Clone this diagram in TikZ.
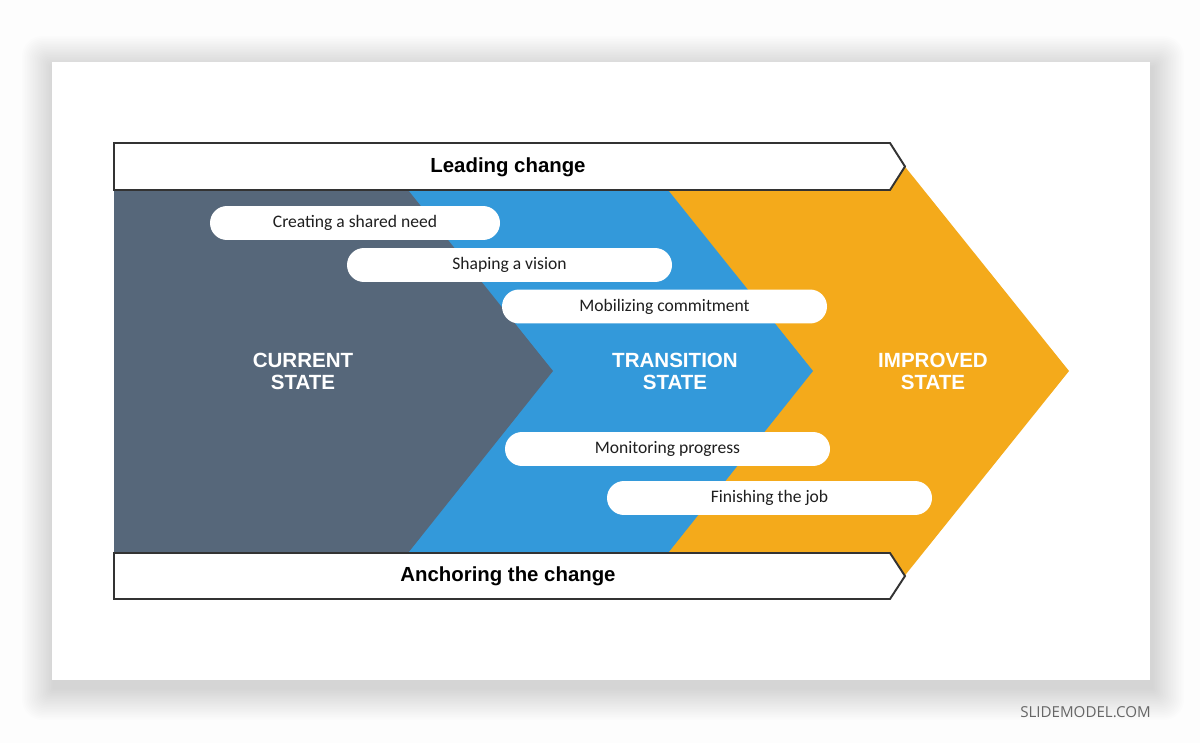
\documentclass[tikz,border=0pt]{standalone}
\usepackage{fontspec}
\setmainfont{Liberation Sans}
\newfontfamily\pillfont{Carlito}
\newfontfamily\markfont{Open Sans}

\definecolor{curgray}{HTML}{56677A}
\definecolor{transblue}{HTML}{3399DA}
\definecolor{improvorange}{HTML}{F4AA1B}
\definecolor{bannerline}{HTML}{333333}
\definecolor{pagebg}{HTML}{FDFDFD}

\begin{document}
\begin{tikzpicture}[x=0.02cm, y=-0.02cm,
	pill/.style={fill=white, rounded corners=0.34cm, minimum height=0.68cm, inner sep=0pt,
		text=black!88, font=\pillfont\fontsize{10}{12}\selectfont},
	statelabel/.style={text=white, align=center, font=\bfseries\fontsize{11.7}{12.5}\selectfont},
	banner/.style={fill=white, draw=bannerline, line width=1.1pt, line join=miter},
	bannertext/.style={font=\bfseries\fontsize{11.6}{14}\selectfont}]
	
	\useasboundingbox (0,0) rectangle (1200,743);
	\fill[pagebg] (0,0) rectangle (1200,743);
	
	
	\foreach \i in {1,...,20}
	\fill[black, opacity=0.007, rounded corners=0.02cm*\i] (52-1.6*\i+2,62-1.6*\i+6) rectangle (1150+1.6*\i+2,680+1.6*\i+8);
	\fill[white] (52,62) rectangle (1150,680);
	
	
	\fill[improvorange] (600,143) -- (886,143) -- (1069,371) -- (886,599) -- (600,599) -- cycle;
	\fill[transblue] (114,190) -- (668,190) -- (813,371) -- (668,553) -- (114,553) -- cycle;
	\fill[curgray] (114,190) -- (408,190) -- (553,371) -- (408,553) -- (114,553) -- cycle;
	
	
	\draw[banner] (114,143) -- (890,143) -- (905,166.5) -- (890,190) -- (114,190) -- cycle;
	\draw[banner] (114,553) -- (890,553) -- (905,576) -- (890,599) -- (114,599) -- cycle;
	\node[bannertext] (lead) at (508,167.5) {Leading change};
	\node[bannertext] (anchor) at (508,576.5) {Anchoring the change};
	
	
	\node[pill, minimum width=0.02cm*290] (need) at (355,223) {Creating a shared need};
	\node[pill, minimum width=0.02cm*325] (vision) at (509.5,265) {Shaping a vision};
	\node[pill, minimum width=0.02cm*325] (commit) at (664.5,306.5) {Mobilizing commitment};
	\node[pill, minimum width=0.02cm*325] (monitor) at (667.5,449) {Monitoring progress};
	\node[pill, minimum width=0.02cm*325] (finish) at (769.5,498) {Finishing the job};
	
	
	\node[statelabel] (current) at (303,371) {CURRENT\\STATE};
	\node[statelabel] (transition) at (675,371) {TRANSITION\\STATE};
	\node[statelabel] (improved) at (933,371) {IMPROVED\\STATE};
	
	\node[anchor=east, inner sep=0pt, text=black!60, font=\markfont\fontsize{8.6}{10}\selectfont] (mark) at (1151,712) {SLIDEMODEL.COM};
\end{tikzpicture}
\end{document}
